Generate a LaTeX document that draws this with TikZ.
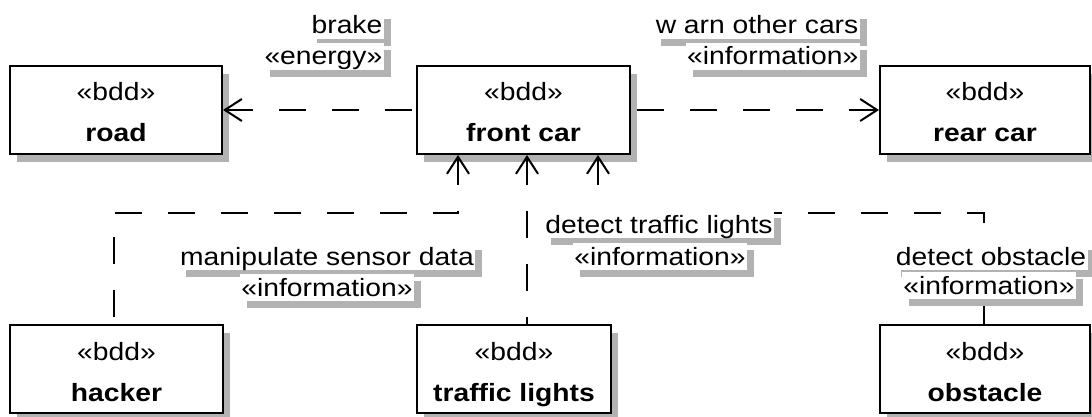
\documentclass[tikz,border=0pt]{standalone}
\usepackage{fontspec}
\newfontfamily\dia[FakeStretch=1.13]{Liberation Sans}
\usetikzlibrary{arrows.meta,shadows}
\definecolor{shadowgrey}{gray}{0.70}
\newcommand\bst{\rule[-7pt]{0pt}{37pt}}
\begin{document}
\begin{tikzpicture}[x=1pt,y=-1pt,
  block/.style={draw, line width=2pt, fill=white, minimum width=212pt,
    minimum height=88pt, inner sep=0pt, align=center,
    font=\dia\fontsize{25}{41}\selectfont,
    general shadow={fill=shadowgrey, shadow xshift=7pt, shadow yshift=-8pt}},
  lbl/.style={fill=white, inner xsep=1.5pt, inner ysep=0pt,
    text height=22pt, text depth=5pt,
    font=\dia\fontsize{25}{28}\selectfont,
    general shadow={fill=shadowgrey, shadow xshift=7pt, shadow yshift=-7pt}},
  dep/.style={line width=2pt, dash pattern=on 27pt off 26pt,
    {Straight Barb[length=17pt,width=22pt,line width=2pt]}-}]
\useasboundingbox (0,0) rectangle (1092,417);

% blocks
\node[block] (road) at (116,110) {\bst«bdd»\\\bst\textbf{road}};
\node[block, minimum width=213pt] (fc) at (523.5,110) {\bst«bdd»\\\bst\textbf{front car}};
\node[block, minimum width=210pt] (rear) at (985,110) {\bst«bdd»\\\bst\textbf{rear car}};
\node[block, minimum width=213pt] (hacker) at (116.5,369) {\bst«bdd»\\\bst\textbf{hacker}};
\node[block, minimum width=194pt] (tl) at (514,369) {\bst«bdd»\\\bst\textbf{traffic lights}};
\node[block, minimum width=210pt] (ob) at (985,369) {\bst«bdd»\\\bst\textbf{obstacle}};

% bends of the routed flows
\coordinate (hbend) at (458,213);
\coordinate (obend) at (598,213);

% flows, each drawn from its arrowhead back to its source
\draw[dep] (road.east) -- (fc.west);
\draw[dep] (rear.west) -- (fc.east);
\draw[dep] (hbend |- fc.south) -- (hbend) -| ([xshift=-3pt]hacker.north);
\draw[dep] ([xshift=13pt]tl.north |- fc.south) -- ([xshift=13pt]tl.north);
\draw[dep] (obend |- fc.south) -- (obend) -| ([xshift=-1pt]ob.north);

% flow labels
\node[lbl, anchor=base east] (brk) at (384,34) {brake};
\node[lbl, anchor=base east] (brk2) at (384,65) {«energy»};
\node[lbl, anchor=base east] (warn) at (860,34) {w arn other cars};
\node[lbl, anchor=base east] (warn2) at (860,65) {«information»};
\node[lbl, anchor=base] (man) at (327,265) {manipulate sensor data};
\node[lbl, anchor=base] (man2) at (327,296) {«information»};
\node[lbl, anchor=base] (dtl) at (659,233) {detect traffic lights};
\node[lbl, anchor=base] (dtl2) at (660,265) {«information»};
\node[lbl, anchor=base] (dob) at (991,265) {detect obstacle};
\node[lbl, anchor=base] (dob2) at (989,294) {«information»};
\end{tikzpicture}
\end{document}
